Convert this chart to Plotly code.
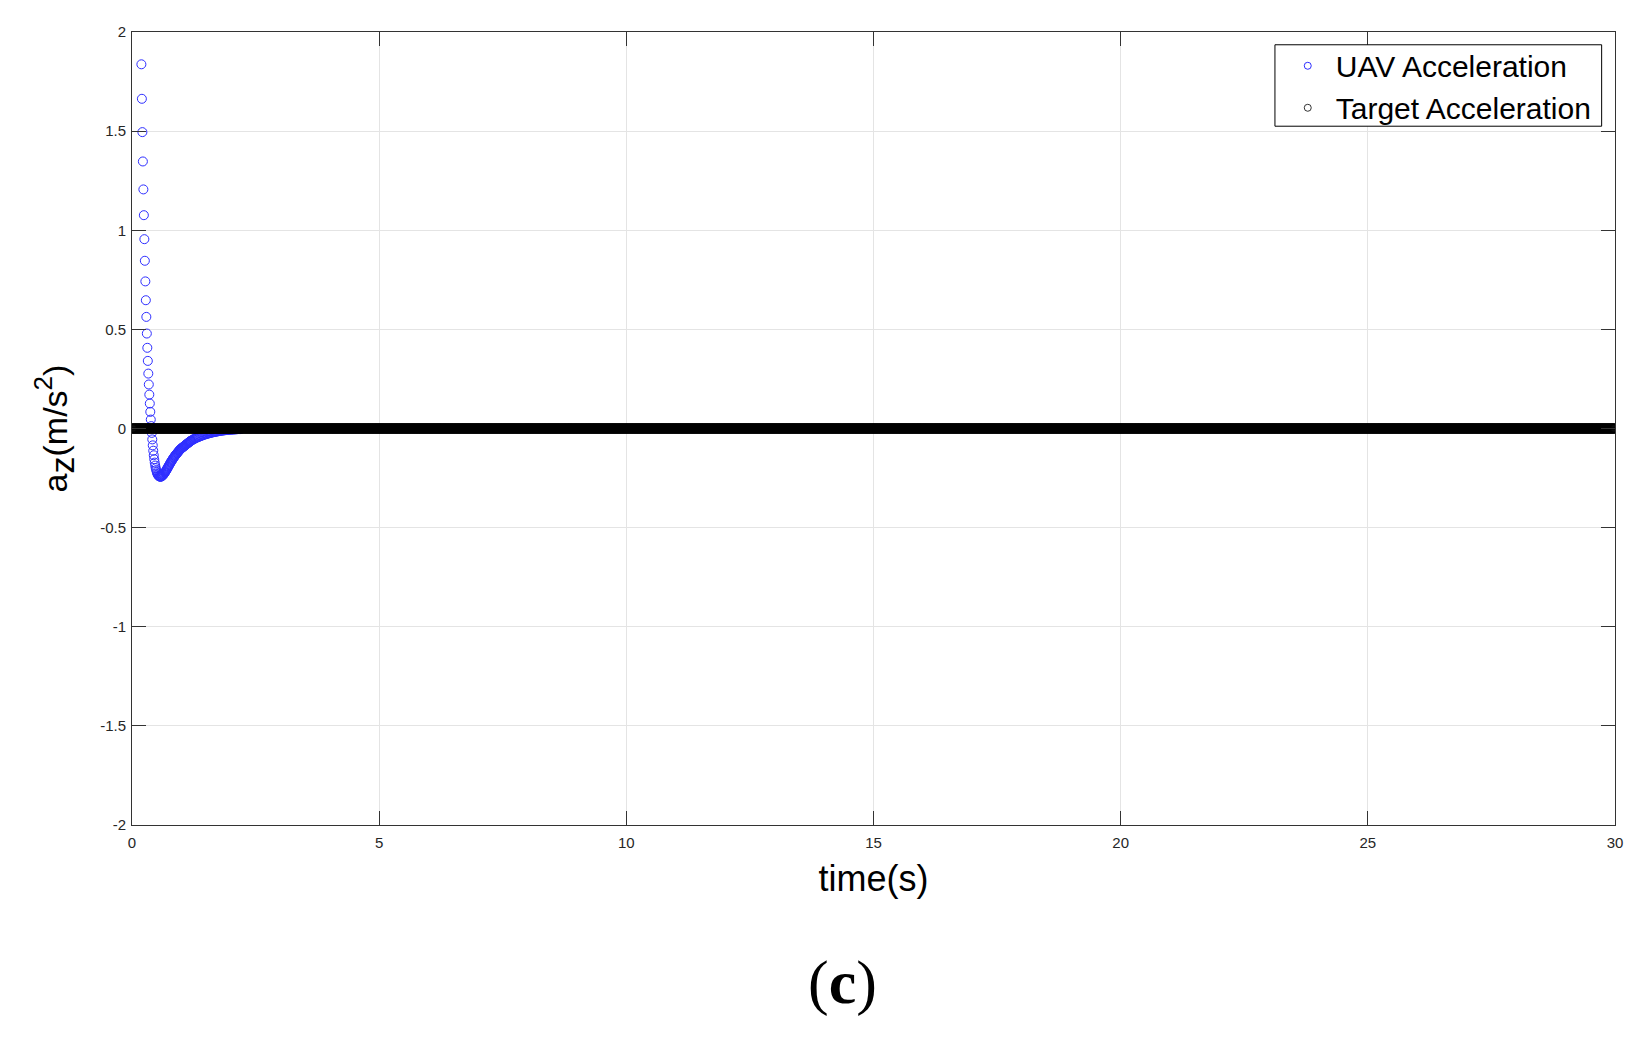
import numpy as np
import plotly.graph_objects as go

# ---- data ----
# UAV acceleration: visible samples (earlier values above 2 are clipped by the axis)
uav_t = [0.19, 0.20, 0.21, 0.22, 0.23, 0.24, 0.25, 0.26, 0.27, 0.28,
         0.29, 0.30, 0.31, 0.32, 0.33, 0.34, 0.35, 0.36, 0.37, 0.38,
         0.39, 0.40, 0.41, 0.42, 0.43, 0.44, 0.45, 0.46, 0.47, 0.48,
         0.49, 0.50, 0.51, 0.52, 0.53, 0.54, 0.55, 0.56, 0.57, 0.58,
         0.59, 0.60, 0.61, 0.62, 0.63, 0.64, 0.65, 0.66, 0.67, 0.68,
         0.69, 0.70, 0.71, 0.72, 0.73, 0.74, 0.75, 0.76, 0.77, 0.78,
         0.79, 0.80, 0.81, 0.82, 0.83, 0.84, 0.85, 0.86, 0.87, 0.88,
         0.89, 0.90, 0.91, 0.92, 0.93, 0.94, 0.95, 0.96, 0.97, 0.98,
         0.99, 1.00, 1.01, 1.02, 1.03, 1.04, 1.05, 1.06, 1.07, 1.08,
         1.09, 1.10, 1.11, 1.12, 1.13, 1.14, 1.15, 1.16, 1.17, 1.18,
         1.19, 1.20, 1.22, 1.24, 1.26, 1.28, 1.30, 1.32, 1.34, 1.36,
         1.38, 1.40, 1.42, 1.44, 1.46, 1.48, 1.50, 1.52, 1.54, 1.56,
         1.58, 1.60, 1.62, 1.64, 1.66, 1.68, 1.70, 1.72, 1.74, 1.76,
         1.78, 1.80, 1.82, 1.84, 1.86, 1.88, 1.90, 1.92, 1.94, 1.96,
         1.98, 2.00, 2.02, 2.04, 2.06, 2.08, 2.10, 2.12, 2.14, 2.16,
         2.18, 2.20]
uav_a = [1.837, 1.663, 1.495, 1.347, 1.206, 1.076, 0.955, 0.846, 0.742, 0.647,
         0.563, 0.479, 0.407, 0.341, 0.277, 0.222, 0.171, 0.126, 0.084, 0.045,
         0.012, -0.022, -0.055, -0.085, -0.112, -0.135, -0.155, -0.172, -0.187, -0.200,
         -0.210, -0.219, -0.226, -0.232, -0.236, -0.239, -0.241, -0.242, -0.243, -0.243,
         -0.242, -0.241, -0.239, -0.237, -0.234, -0.231, -0.228, -0.224, -0.220, -0.216,
         -0.212, -0.208, -0.203, -0.199, -0.194, -0.190, -0.185, -0.181, -0.177, -0.172,
         -0.168, -0.164, -0.160, -0.156, -0.152, -0.148, -0.145, -0.141, -0.138, -0.134,
         -0.131, -0.128, -0.125, -0.122, -0.119, -0.116, -0.113, -0.110, -0.107, -0.105,
         -0.102, -0.100, -0.098, -0.096, -0.094, -0.092, -0.090, -0.088, -0.086, -0.084,
         -0.082, -0.080, -0.078, -0.076, -0.074, -0.072, -0.070, -0.068, -0.066, -0.064,
         -0.063, -0.061, -0.058, -0.055, -0.052, -0.050, -0.047, -0.045, -0.043, -0.041,
         -0.039, -0.037, -0.035, -0.033, -0.031, -0.030, -0.028, -0.027, -0.025, -0.024,
         -0.023, -0.021, -0.020, -0.019, -0.018, -0.017, -0.016, -0.015, -0.014, -0.013,
         -0.012, -0.011, -0.011, -0.010, -0.009, -0.009, -0.008, -0.008, -0.007, -0.007,
         -0.006, -0.006, -0.005, -0.005, -0.005, -0.004, -0.004, -0.004, -0.003, -0.003,
         -0.003, -0.003]

# Target acceleration: sampled every 0.01 s over 0..30 s, constant zero
target_step = 0.01
target_end = 30.0
target_t = np.round(np.arange(0, target_end + target_step / 2, target_step), 4)
target_a = np.zeros_like(target_t)

x_ticks = [0, 5, 10, 15, 20, 25, 30]
y_ticks = [-2, -1.5, -1, -0.5, 0, 0.5, 1, 1.5, 2]
y_tick_text = ["-2", "-1.5", "-1", "-0.5", "0", "0.5", "1", "1.5", "2"]

UAV_COLOR = "#2e2eff"
TGT_COLOR = "#000000"

fig = go.Figure()
fig.add_trace(go.Scatter(
    x=uav_t, y=uav_a, mode="markers", name="UAV Acceleration", showlegend=False,
    marker=dict(symbol="circle-open", size=9, color=UAV_COLOR, line=dict(width=1)),
))
fig.add_trace(go.Scatter(
    x=target_t, y=target_a, mode="markers", name="Target Acceleration", showlegend=False,
    marker=dict(symbol="circle-open", size=9, color=TGT_COLOR, line=dict(width=1)),
))
# legend entries (smaller legend symbols, as in the reference)
fig.add_trace(go.Scatter(
    x=[None], y=[None], mode="markers", name="UAV Acceleration",
    marker=dict(symbol="circle-open", size=7, color=UAV_COLOR, line=dict(width=1)),
))
fig.add_trace(go.Scatter(
    x=[None], y=[None], mode="markers", name="Target Acceleration",
    marker=dict(symbol="circle-open", size=7, color="#333333", line=dict(width=1)),
))

axis_common = dict(
    showgrid=True, gridcolor="#e4e4e4", gridwidth=1,
    showline=True, linecolor="#333333", linewidth=1, mirror="ticks",
    ticks="inside", ticklen=14, tickcolor="#333333", tickwidth=1,
    zeroline=False,
    tickfont=dict(family="Liberation Sans, Arial, sans-serif", size=15, color="#262626"),
)

fig.update_layout(
    width=1627, height=1027,
    paper_bgcolor="white", plot_bgcolor="white",
    margin=dict(l=124, r=20, t=24, b=210),
    font=dict(family="Liberation Sans, Arial, sans-serif", color="#000000"),
    xaxis=dict(range=[0, 30], tickvals=x_ticks, ticklabelstandoff=4, **axis_common,
               title=dict(text="time(s)", font=dict(size=36, color="#000000"), standoff=15)),
    yaxis=dict(range=[-2, 2], tickvals=y_ticks, ticktext=y_tick_text, ticklabelstandoff=2,
               **axis_common,
               title=dict(text='a<sub><span style="font-size:34px">z</span></sub>(m/s<sup><span style="font-size:26px">2</span></sup>)',
                          font=dict(size=34, color="#000000"), standoff=22)),
    legend=dict(
        x=0.9877, y=0.9902, xanchor="right", yanchor="top",
        bgcolor="rgba(0,0,0,0)", borderwidth=0,
        font=dict(size=30, color="#000000"),
        itemwidth=46, tracegroupgap=0,
    ),
    showlegend=True,
)

# legend box (white, black border) drawn above the grid
fig.add_shape(
    type="rect", xref="paper", yref="paper",
    x0=0.7707, x1=0.9910, y0=0.8812, y1=0.9839,
    fillcolor="white", line=dict(color="#000000", width=1), layer="above",
)

fig.add_annotation(
    text="(<b>c</b>)", xref="paper", yref="paper",
    x=0.4788, y=-0.198, xanchor="center", yanchor="middle",
    showarrow=False,
    font=dict(family="Liberation Serif, DejaVu Serif, serif", size=62, color="#000000"),
)

fig.write_html("out.html")
